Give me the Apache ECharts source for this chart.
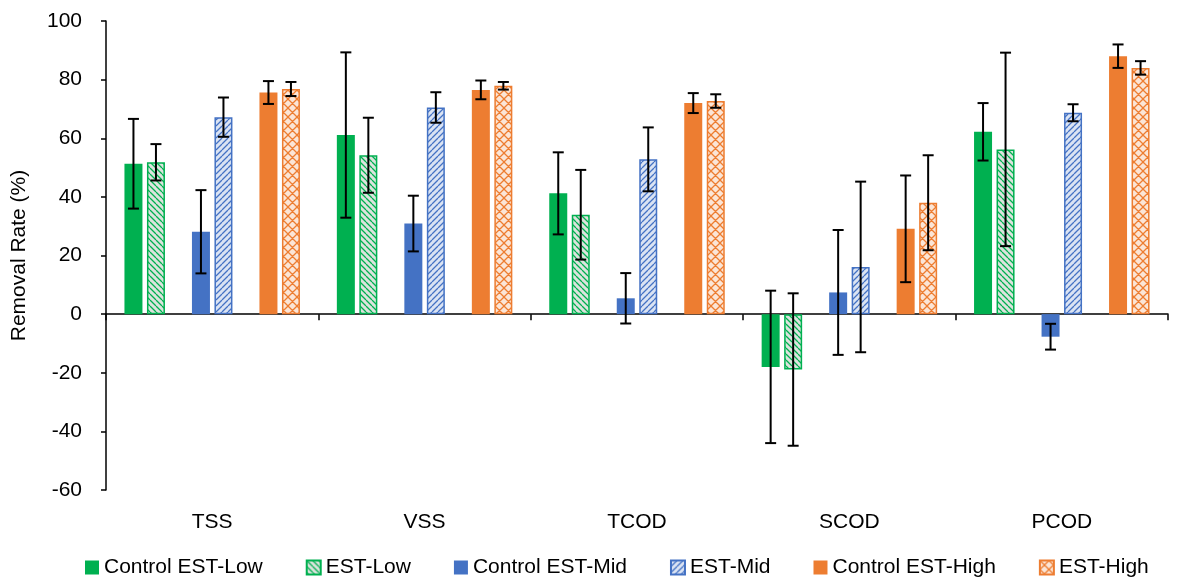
<!DOCTYPE html>
<html><head><meta charset="utf-8">
<script src="https://cdn.jsdelivr.net/npm/echarts@6/dist/echarts.min.js"></script>
<style>html,body{margin:0;padding:0;background:#fff}#c{width:1177px;height:581px}</style>
</head><body><div id="c"></div>
<script>
// ---- data ----
const categories = ['TSS', 'VSS', 'TCOD', 'SCOD', 'PCOD'];
const seriesNames = ['Control EST-Low', 'EST-Low', 'Control EST-Mid', 'EST-Mid', 'Control EST-High', 'EST-High'];
const controlLow     = [51.3, 61.1, 41.2, -18.0, 62.2];
const controlLowErr  = [15.3, 28.2, 14.0, 26.0, 9.8];
const estLow         = [51.8, 54.2, 33.9, -18.9, 56.2];
const estLowErr      = [6.2, 12.8, 15.3, 26.0, 33.0];
const controlMid     = [28.1, 30.9, 5.4, 7.4, -7.7];
const controlMidErr  = [14.2, 9.5, 8.6, 21.3, 4.4];
const estMid         = [67.2, 70.5, 52.8, 16.1, 68.7];
const estMidErr      = [6.7, 5.2, 10.9, 29.1, 2.9];
const controlHigh    = [75.6, 76.5, 72.0, 29.1, 88.0];
const controlHighErr = [3.9, 3.2, 3.4, 18.2, 4.0];
const estHigh        = [76.8, 77.9, 72.7, 38.0, 84.0];
const estHighErr     = [2.4, 1.3, 2.3, 16.2, 2.3];
const yMin = -60, yMax = 100, yInterval = 20;

// ---- styles ----
const FONT = 'Liberation Sans';
const GREEN = '#00B050', BLUE = '#4472C4', ORANGE = '#ED7D31';
const BAR_W = 18, BAR_GAP = 0.25, STEP = BAR_W * (1 + BAR_GAP);

function pattern(bg, fg, kind, size) {
  const c = document.createElement('canvas');
  c.width = c.height = size;
  const g = c.getContext('2d');
  g.fillStyle = bg; g.fillRect(0, 0, size, size);
  g.strokeStyle = fg; g.lineWidth = 1.3;
  g.beginPath();
  for (const o of [-size, 0, size]) {
    if (kind === 'down' || kind === 'cross') { g.moveTo(o, 0); g.lineTo(o + size, size); }
    if (kind === 'up' || kind === 'cross') { g.moveTo(o, size); g.lineTo(o + size, 0); }
  }
  g.stroke();
  return { image: c, repeat: 'repeat' };
}

const groups = [
  { name: seriesNames[0], vals: controlLow, errs: controlLowErr, slot: 0, style: { color: GREEN } },
  { name: seriesNames[1], vals: estLow, errs: estLowErr, slot: 1, style: { color: pattern('#dce3dd', GREEN, 'down', 6), borderColor: GREEN, borderWidth: 1.5 } },
  { name: seriesNames[2], vals: controlMid, errs: controlMidErr, slot: 3, style: { color: BLUE } },
  { name: seriesNames[3], vals: estMid, errs: estMidErr, slot: 4, style: { color: pattern('#dae3f3', BLUE, 'up', 6), borderColor: BLUE, borderWidth: 1.5 } },
  { name: seriesNames[4], vals: controlHigh, errs: controlHighErr, slot: 6, style: { color: ORANGE } },
  { name: seriesNames[5], vals: estHigh, errs: estHighErr, slot: 7, style: { color: pattern('#fbe5d6', ORANGE, 'cross', 9), borderColor: ORANGE, borderWidth: 1.5 } }
];

const series = [];
let gapCount = 0;
groups.forEach((gr, idx) => {
  if (idx === 2 || idx === 4) {
    series.push({ name: 'gap' + (++gapCount), type: 'bar', data: categories.map(() => '-'),
      barWidth: BAR_W, barGap: (BAR_GAP * 100) + '%', silent: true });
  }
  series.push({ name: gr.name, type: 'bar', data: gr.vals, itemStyle: gr.style,
    barWidth: BAR_W, barGap: (BAR_GAP * 100) + '%' });
});

const errData = [];
groups.forEach(gr => gr.vals.forEach((v, i) => errData.push([i, v, gr.errs[i], gr.slot])));

series.push({
  type: 'custom', name: 'err', z: 10, silent: true,
  data: errData, encode: { x: 0, y: 1 },
  renderItem(params, api) {
    const i = api.value(0), v = api.value(1), e = api.value(2), s = api.value(3);
    const x = api.coord([i, v])[0] + (s - 3.5) * STEP;
    const yt = api.coord([i, v + e])[1], yb = api.coord([i, v - e])[1];
    const st = { stroke: '#000', lineWidth: 2 };
    return { type: 'group', children: [
      { type: 'line', shape: { x1: x, y1: yt, x2: x, y2: yb }, style: st },
      { type: 'line', shape: { x1: x - 5.5, y1: yt, x2: x + 5.5, y2: yt }, style: st },
      { type: 'line', shape: { x1: x - 5.5, y1: yb, x2: x + 5.5, y2: yb }, style: st }
    ]};
  }
});

const chart = echarts.init(document.getElementById('c'), null, { renderer: 'canvas' });
chart.setOption({
  animation: false,
  textStyle: { fontFamily: FONT },
  grid: { left: 106, right: 9, top: 21, bottom: 91 },
  legend: {
    data: seriesNames, left: 80, right: 0, top: 552, itemWidth: 14, itemHeight: 14, itemGap: 43, icon: 'rect',
    textStyle: { fontSize: 21, color: '#000', fontFamily: FONT }
  },
  xAxis: [
    { type: 'category', data: categories,
      axisLine: { onZero: true, lineStyle: { color: '#000', width: 1.5 } },
      axisTick: { show: true, length: 6, lineStyle: { color: '#000', width: 1.5 } },
      axisLabel: { show: false }, splitLine: { show: false } },
    { type: 'category', data: categories, position: 'bottom',
      axisLine: { show: false, onZero: false }, axisTick: { show: false },
      axisLabel: { fontSize: 21, color: '#000', margin: 22, fontFamily: FONT }, splitLine: { show: false } }
  ],
  yAxis: {
    type: 'value', min: yMin, max: yMax, interval: yInterval,
    name: 'Removal Rate (%)', nameLocation: 'middle', nameGap: 76,
    nameTextStyle: { fontSize: 21, color: '#000', fontFamily: FONT },
    axisLine: { show: true, lineStyle: { color: '#000', width: 1.5 } },
    axisTick: { show: true, length: 5, lineStyle: { color: '#000', width: 1.5 } },
    axisLabel: { fontSize: 21, color: '#000', margin: 24, fontFamily: FONT },
    splitLine: { show: false }
  },
  series
});
</script>
</body></html>
